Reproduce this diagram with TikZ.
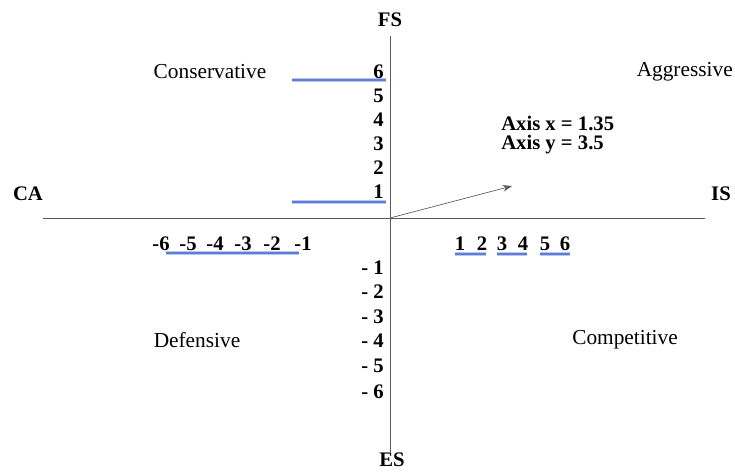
\documentclass[tikz,border=0pt]{standalone}
\usepackage{fontspec}
\setmainfont{Liberation Serif}
\usepackage{xcolor}
\usepackage{tikz}
\usetikzlibrary{arrows.meta, positioning}
\definecolor{axisgray}{RGB}{90, 90, 90}
\definecolor{markblue}{RGB}{95, 125, 215}
\definecolor{markhalo}{RGB}{185, 200, 240}

\begin{document}
\begin{tikzpicture}[x=0.75pt, y=-0.75pt,
				axis/.style={draw=axisgray, line width=0.7pt},
				quad/.style={font=\fontsize{16}{18}\selectfont, inner sep=0pt},
				num/.style={font=\fontsize{15.5}{18}\selectfont\bfseries, inner sep=0pt},
				bluemark/.style={draw=markhalo, line width=3pt, postaction={draw=markblue, line width=1.4pt}}]
				
				\useasboundingbox (0,0) rectangle (735,471);
				
				% axes
				\coordinate (o) at (390,218);
				\coordinate (xl) at (43,218);
				\coordinate (xr) at (705,218);
				\coordinate (yt) at (390,36);
				\coordinate (yb) at (390,452);
				\draw[axis] (xl) -- (xr);
				\draw[axis] (yt) -- (yb);
				
				\node[num] (fs) at (390,20) {FS};
				\node[num] (es) at (392,460) {ES};
				\node[num] (ca) at (28,194) {CA};
				\node[num] (is) at (721,194) {IS};
				
				% quadrants
				\node[quad] (cons) at (210,72) {Conservative};
				\node[quad, anchor=east] (aggr) at (733,72) {Aggressive};
				\node[quad] (defe) at (197,340) {Defensive};
				\node[quad] (comp) at (625,340) {Competitive};
				
				% strategic position
				\node[num, anchor=west] (ax) at (501,123) {Axis x = 1.35};
				\node[num, anchor=west] (ay) at (501,145) {Axis y = 3.5};
				\coordinate (pos) at (512,186);
				\draw[axis, line width=0.5pt, -{Stealth[length=7pt, width=5pt]}] (o) -- (pos);
				
				% blue marks
				\coordinate (m6a) at (292,80);  \coordinate (m6b) at (386,80);
				\coordinate (m1a) at (292,202); \coordinate (m1b) at (386,202);
				\coordinate (mna) at (166,253); \coordinate (mnb) at (299,253);
				\coordinate (m12a) at (455,254); \coordinate (m12b) at (486,254);
				\coordinate (m34a) at (497,254); \coordinate (m34b) at (527,254);
				\coordinate (m56a) at (540,254); \coordinate (m56b) at (570,254);
				\draw[bluemark] (m6a) -- (m6b);
				\draw[bluemark] (m1a) -- (m1b);
				\draw[bluemark] (mna) -- (mnb);
				\draw[bluemark] (m12a) -- (m12b);
				\draw[bluemark] (m34a) -- (m34b);
				\draw[bluemark] (m56a) -- (m56b);
				
				% FS scale
				\node[num, anchor=east] (fs6) at (384,72) {6};
				\node[num, anchor=east] (fs5) at (384,96) {5};
				\node[num, anchor=east] (fs4) at (384,120) {4};
				\node[num, anchor=east] (fs3) at (384,144) {3};
				\node[num, anchor=east] (fs2) at (384,168) {2};
				\node[num, anchor=east] (fs1) at (384,192) {1};
				
				% ES scale
				\node[num, anchor=east] (es1) at (384,268) {- 1};
				\node[num, anchor=east] (es2) at (384,292) {- 2};
				\node[num, anchor=east] (es3) at (384,317) {- 3};
				\node[num, anchor=east] (es4) at (384,341) {- 4};
				\node[num, anchor=east] (es5) at (384,366) {- 5};
				\node[num, anchor=east] (es6) at (384,392) {- 6};
				
				% CA scale
				\node[num] (ca6) at (161,244) {-6};
				\node[num] (ca5) at (188,244) {-5};
				\node[num] (ca4) at (215,244) {-4};
				\node[num] (ca3) at (243,244) {-3};
				\node[num] (ca2) at (272,244) {-2};
				\node[num] (ca1) at (303,244) {-1};
				
				% IS scale
				\node[num] (is1) at (460,244) {1};
				\node[num] (is2) at (482,244) {2};
				\node[num] (is3) at (502,244) {3};
				\node[num] (is4) at (523,244) {4};
				\node[num] (is5) at (545,244) {5};
				\node[num] (is6) at (565,244) {6};
			\end{tikzpicture}
\end{document}
